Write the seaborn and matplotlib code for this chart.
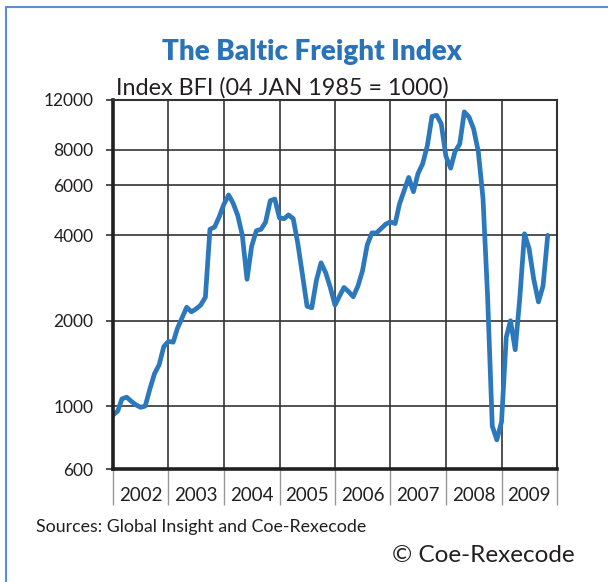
import pandas as pd
import matplotlib.pyplot as plt
from matplotlib.lines import Line2D
from matplotlib.ticker import NullLocator, FixedLocator
import seaborn as sns

# Monthly Baltic Freight Index, Jan 2002 - Nov 2009
months = pd.date_range('2002-01-01', periods=95, freq='MS')
bfi = [930, 960, 1060, 1075, 1040, 1010, 990, 1000, 1150, 1300, 1400, 1620,
       1690, 1680, 1880, 2050, 2230, 2150, 2200, 2270, 2420, 4200, 4280, 4650,
       5150, 5550, 5200, 4700, 4000, 2800, 3650, 4150, 4200, 4450, 5300, 5370,
       4600, 4580, 4720, 4580, 3750, 2900, 2250, 2220, 2780, 3200, 2950, 2620,
       2270, 2450, 2620, 2530, 2430, 2650, 3000, 3700, 4080, 4080, 4230, 4380,
       4460, 4400, 5150, 5750, 6400, 5700, 6600, 7150, 8300, 10500, 10600, 9900,
       7600, 6900, 7900, 8400, 10900, 10450, 9500, 7900, 5400, 2450, 850, 760,
       880, 1750, 2000, 1580, 2400, 4050, 3600, 2800, 2330, 2650, 4000]
years = list(range(2002, 2010))
y_ticks = [600, 1000, 2000, 4000, 6000, 8000, 12000]

sns.set_style('white')
plt.rcParams['font.family'] = ['Lato', 'DejaVu Sans']
text_color = '#231f20'

fig = plt.figure(figsize=(6.08, 5.82), dpi=100)
ax = fig.add_axes([113 / 608, 1 - 469 / 582, 444 / 608, 369 / 582])

sns.lineplot(x=months, y=bfi, ax=ax, color='#2b78bd', linewidth=3.4)

ax.set_yscale('log')
ax.set_ylim(600, 12000)
ax.set_xlim(pd.Timestamp('2002-01-01'), pd.Timestamp('2010-01-01'))
ax.yaxis.set_major_locator(FixedLocator(y_ticks))
ax.yaxis.set_minor_locator(NullLocator())
ax.set_yticklabels([str(v) for v in y_ticks])

bounds = [pd.Timestamp(f'{y}-01-01') for y in years + [2010]]
mids = [pd.Timestamp(f'{y}-07-02') for y in years]
ax.set_xticks(bounds)
ax.set_xticklabels([])
ax.set_xticks(mids, minor=True)
ax.set_xticklabels([str(y) for y in years], minor=True)

ax.grid(True, which='major', color='#333333', linewidth=1.2)
ax.tick_params(axis='y', which='major', length=5, width=1.2, color='#333333',
               pad=9, labelsize=12.5, labelcolor=text_color, left=True)
ax.tick_params(axis='x', which='major', length=26, width=1, color='#999999',
               bottom=True)
ax.tick_params(axis='x', which='minor', length=0, pad=13, labelsize=13.5,
               labelcolor=text_color)
ax.set_xlabel('')
ax.set_ylabel('')

for side in ['left', 'bottom']:
    ax.spines[side].set_linewidth(2.6)
    ax.spines[side].set_color('#231f20')
for side in ['top', 'right']:
    ax.spines[side].set_linewidth(1.5)
    ax.spines[side].set_color('#333333')

fig.text(312 / 608, 1 - 52 / 582, 'The Baltic Freight Index', ha='center',
         va='center', fontsize=20, fontweight='heavy', color='#2a73b8')
fig.text(116 / 608, 1 - 88 / 582, 'Index BFI (04 JAN 1985 = 1000)', ha='left',
         va='center', fontsize=16.8, color=text_color)
fig.text(36 / 608, 1 - 527 / 582, 'Sources: Global Insight and Coe-Rexecode',
         ha='left', va='center', fontsize=12.8, color=text_color)
fig.text(575 / 608, 1 - 556 / 582, '© Coe-Rexecode', ha='right', va='center',
         fontsize=17.5, color=text_color)

# thin blue frame on the left and top
fig.add_artist(Line2D([6 / 608, 6 / 608], [0, 1 - 7 / 582],
                      transform=fig.transFigure, color='#5b8fd3', lw=1.5))
fig.add_artist(Line2D([6 / 608, 1], [1 - 7 / 582, 1 - 7 / 582],
                      transform=fig.transFigure, color='#5b8fd3', lw=1.5))

fig.savefig('out.png', dpi=100)
